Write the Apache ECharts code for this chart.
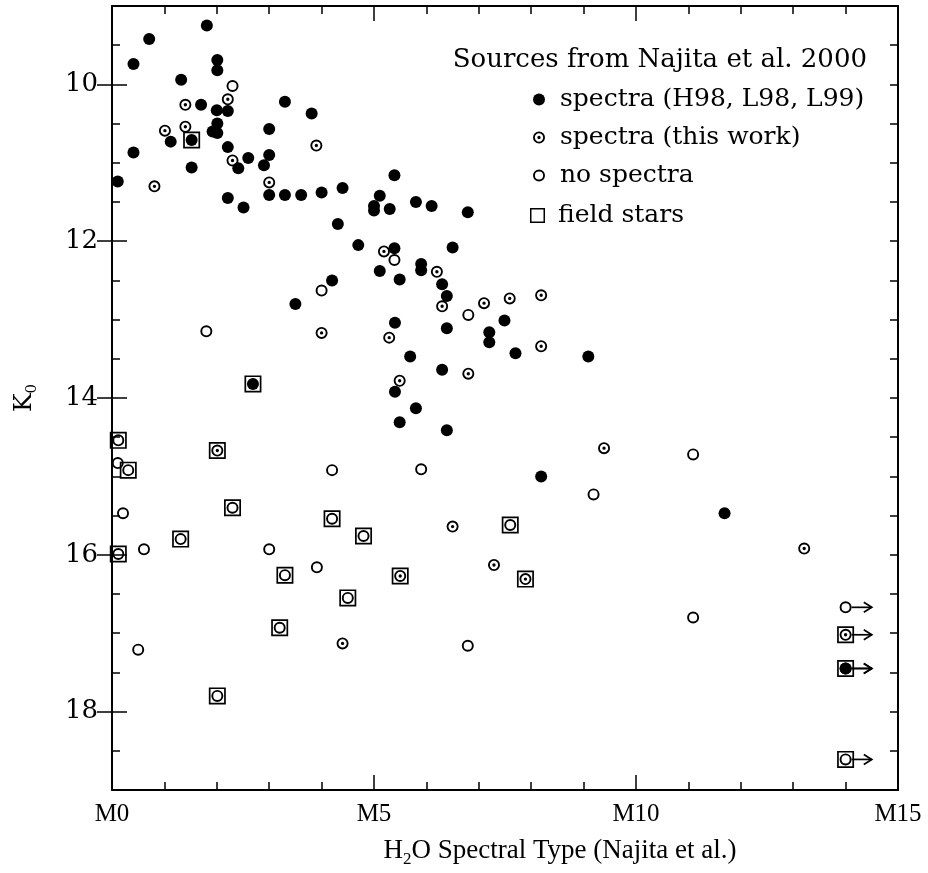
<!DOCTYPE html>
<html><head><meta charset="utf-8">
<script src="https://cdn.jsdelivr.net/npm/echarts@6/dist/echarts.min.js"></script>
<style>html,body{margin:0;padding:0;background:#fff}#c{width:928px;height:873px}</style>
</head><body><div id="c"></div>
<script>
// ---- data (H2O spectral type subclass, K0 magnitude) ----
const filledSpectra = [
  [1.81,9.25],[0.71,9.42],[0.41,9.74],[2.01,9.69],[2.01,9.82],[1.32,9.94],[1.70,10.26],[2.00,10.33],
  [2.21,10.34],[3.30,10.22],[3.81,10.37],[2.01,10.50],[1.92,10.60],[2.01,10.62],[1.52,10.71],[1.12,10.73],
  [3.00,10.57],[0.41,10.87],[2.21,10.80],[2.60,10.94],[3.00,10.90],[2.41,11.07],[2.90,11.03],[1.52,11.06],
  [0.11,11.24],[3.00,11.41],[3.30,11.41],[3.61,11.41],[4.00,11.38],[4.40,11.32],[2.21,11.45],[2.51,11.57],
  [4.31,11.78],[5.39,11.16],[5.11,11.42],[5.00,11.55],[5.00,11.61],[5.30,11.59],[5.80,11.50],[6.10,11.55],
  [6.79,11.63],[4.70,12.05],[5.39,12.09],[6.50,12.08],[5.11,12.38],[5.90,12.29],[5.90,12.37],[5.49,12.49],
  [4.20,12.50],[6.30,12.55],[6.39,12.70],[3.50,12.80],[7.49,13.01],[5.40,13.04],[6.39,13.11],[7.20,13.16],
  [7.20,13.29],[5.69,13.47],[7.70,13.43],[9.09,13.47],[6.30,13.64],[5.40,13.92],[5.80,14.13],[5.49,14.31],
  [6.39,14.41],[2.69,13.82],[8.19,15.00],[11.69,15.47],[14.0,17.45]
];
const dottedSpectra = [
  [1.40,10.26],[2.21,10.19],[1.40,10.54],[1.01,10.59],[3.90,10.78],[2.30,10.97],[0.81,11.30],[3.00,11.25],
  [5.19,12.13],[6.20,12.39],[6.30,12.83],[7.10,12.79],[7.59,12.73],[8.19,12.69],[4.00,13.17],[5.29,13.23],
  [8.19,13.34],[6.80,13.69],[5.49,13.78],[9.39,14.64],[2.01,14.67],[4.40,17.13],[6.50,15.64],[5.50,16.27],
  [7.29,16.13],[7.89,16.31],[13.21,15.92],[14.0,17.02]
];
const noSpectra = [
  [2.30,10.02],[5.39,12.24],[4.00,12.63],[6.80,12.94],[1.80,13.15],[0.12,14.54],[0.11,14.83],[0.31,14.92],
  [4.20,14.92],[0.21,15.47],[2.30,15.40],[4.20,15.54],[4.80,15.76],[1.31,15.80],[0.12,15.99],[0.61,15.93],
  [3.00,15.93],[3.91,16.16],[3.30,16.26],[4.50,16.55],[3.20,16.93],[0.50,17.21],[2.01,17.80],[5.90,14.91],
  [9.19,15.23],[7.60,15.62],[6.79,17.16],[11.09,14.72],[11.09,16.80],[14.0,16.67],[14.0,17.45],[14.0,18.61]
];
const fieldStars = [
  [1.52,10.71],[2.69,13.82],[0.12,14.54],[2.01,14.67],[0.31,14.92],[2.30,15.40],[4.20,15.54],[4.80,15.76],
  [1.31,15.80],[0.12,15.99],[3.30,16.26],[4.50,16.55],[3.20,16.93],[2.01,17.80],[7.60,15.62],[5.50,16.27],
  [7.89,16.31],[14.0,17.02],[14.0,17.45],[14.0,18.61]
];
// lower limits on spectral type (arrows pointing to later types)
const lowerLimits = [[14.0,16.67],[14.0,17.02],[14.0,17.45],[14.0,17.45],[14.0,18.61]];

const xMin = 0, xMax = 15, xMajor = 5;
const yMin = 9, yMax = 19, yMinorStep = 0.5;
const yMajorTicks = [10, 12, 14, 16, 18];
const legendTitle = 'Sources from Najita et al. 2000';
const nameFilled = 'spectra (H98, L98, L99)';
const nameDotted = 'spectra (this work)';
const nameOpen = 'no spectra';
const nameField = 'field stars';

// ---- symbols ----
const RING = 'path://M0,-10A10,10,0,1,1,0,10A10,10,0,1,1,0,-10Z M0,-6.8A6.8,6.8,0,1,0,0,6.8A6.8,6.8,0,1,0,0,-6.8Z';
const DOT = 'path://M0,-10A10,10,0,1,1,0,10A10,10,0,1,1,0,-10Z M0,-6.9A6.9,6.9,0,1,0,0,6.9A6.9,6.9,0,1,0,0,-6.9Z M0,-2.8A2.8,2.8,0,1,1,0,2.8A2.8,2.8,0,1,1,0,-2.8Z';
const SQUARE = 'path://M-10,-10H10V10H-10Z M-8,-8V8H8V-8Z';

const SERIF = 'DejaVu Serif';
const ROMAN = 'Liberation Serif';
const black = '#000';

const chart = echarts.init(document.getElementById('c'), null, {renderer: 'canvas'});

const baseX = {
  type: 'value', min: xMin, max: xMax, interval: xMajor, gridIndex: 0,
  axisLine: {show: true, onZero: false, lineStyle: {color: black, width: 2}},
  axisTick: {show: true, inside: true, length: 15, lineStyle: {color: black, width: 1.5}},
  minorTick: {show: true, splitNumber: 5, length: 8, lineStyle: {color: black, width: 1.5}},
  splitLine: {show: false}, minorSplitLine: {show: false}
};
const baseYMinor = {
  type: 'value', min: yMin, max: yMax, interval: yMinorStep, inverse: true, gridIndex: 0,
  axisLine: {show: true, onZero: false, lineStyle: {color: black, width: 2}},
  axisTick: {show: true, inside: true, length: 8, lineStyle: {color: black, width: 1.5}},
  splitLine: {show: false}
};
const baseYMajor = {
  type: 'value', min: yMin, max: yMax, inverse: true, gridIndex: 0,
  axisLine: {show: false},
  axisLabel: {show: false},
  axisTick: {show: true, inside: true, length: 15, customValues: yMajorTicks, lineStyle: {color: black, width: 1.5}},
  splitLine: {show: false}
};
const pointStyle = {color: black, opacity: 1};

chart.setOption({
  animation: false,
  backgroundColor: '#fff',
  grid: {left: 106, right: 30, top: 6, bottom: 79, containLabel: false},
  title: {
    text: legendTitle, right: 61, top: 47, padding: 0,
    textStyle: {fontFamily: SERIF, fontSize: 26, fontWeight: 'normal', color: black}
  },
  legend: [
    {
      orient: 'vertical', left: 533, top: 87, itemWidth: 12, itemHeight: 12, itemGap: 13,
      selectedMode: false, padding: 0,
      data: [{name: nameFilled, icon: 'circle'}, {name: nameDotted, icon: DOT}, {name: nameOpen, icon: RING}],
      itemStyle: {opacity: 1},
      textStyle: {fontFamily: SERIF, fontSize: 25, color: black, padding: [0, 0, 0, 10]}
    },
    {
      orient: 'vertical', left: 530, top: 203, itemWidth: 15, itemHeight: 15,
      selectedMode: false, padding: 0,
      data: [{name: nameField, icon: SQUARE}],
      itemStyle: {opacity: 1},
      textStyle: {fontFamily: SERIF, fontSize: 25, color: black, padding: [0, 0, 0, 8]}
    }
  ],
  xAxis: [
    Object.assign({}, baseX, {
      position: 'bottom',
      axisLabel: {show: true, margin: 12, formatter: v => 'M' + v, fontFamily: ROMAN, fontSize: 25, color: black},
      name: 'H{s|2}O Spectral Type (Najita et al.)',
      nameLocation: 'middle', nameGap: 44,
      nameTextStyle: {
        fontFamily: ROMAN, fontSize: 27, color: black, lineHeight: 34, padding: [0, 0, 0, 110],
        rich: {s: {fontFamily: ROMAN, fontSize: 17, lineHeight: 17, verticalAlign: 'bottom'}}
      }
    }),
    Object.assign({}, baseX, {position: 'top', axisLabel: {show: false}})
  ],
  yAxis: [
    Object.assign({}, baseYMinor, {
      position: 'left',
      axisLabel: {
        show: true, margin: 14, fontFamily: SERIF, fontSize: 26, color: black,
        formatter: v => (yMajorTicks.indexOf(v) >= 0 ? String(v) : '')
      },
      name: 'K{s|0}', nameLocation: 'middle', nameGap: 72, nameRotate: 90,
      nameTextStyle: {
        fontFamily: SERIF, fontSize: 25, color: black, lineHeight: 32,
        rich: {s: {fontFamily: SERIF, fontSize: 15, lineHeight: 16, verticalAlign: 'bottom'}}
      }
    }),
    Object.assign({}, baseYMajor, {position: 'left'}),
    Object.assign({}, baseYMinor, {position: 'right', axisLabel: {show: false}}),
    Object.assign({}, baseYMajor, {position: 'right'})
  ],
  series: [
    {
      name: nameField, type: 'scatter', xAxisIndex: 0, yAxisIndex: 0, data: fieldStars,
      symbol: SQUARE, symbolSize: 17, itemStyle: pointStyle, z: 3, silent: true
    },
    {
      name: nameFilled, type: 'scatter', xAxisIndex: 0, yAxisIndex: 0, data: filledSpectra,
      symbol: 'circle', symbolSize: 12, itemStyle: pointStyle, z: 4, silent: true
    },
    {
      name: nameDotted, type: 'scatter', xAxisIndex: 0, yAxisIndex: 0, data: dottedSpectra,
      symbol: DOT, symbolSize: 12, itemStyle: pointStyle, z: 4, silent: true
    },
    {
      name: nameOpen, type: 'scatter', xAxisIndex: 0, yAxisIndex: 0, data: noSpectra,
      symbol: RING, symbolSize: 12, itemStyle: pointStyle, z: 4, silent: true
    },
    {
      name: 'lower limits', type: 'custom', xAxisIndex: 0, yAxisIndex: 0, data: lowerLimits,
      encode: {x: 0, y: 1}, silent: true, z: 5,
      renderItem: function (params, api) {
        const p = api.coord([api.value(0), api.value(1)]);
        const e = api.coord([api.value(0) + 0.5, api.value(1)]);
        return {
          type: 'group',
          children: [
            {type: 'line', shape: {x1: p[0] + 6, y1: p[1], x2: e[0], y2: e[1]}, style: {stroke: black, lineWidth: 1.7}},
            {type: 'polyline', shape: {points: [[e[0] - 8, e[1] - 5], [e[0], e[1]], [e[0] - 8, e[1] + 5]]},
             style: {stroke: black, lineWidth: 1.7, fill: null}}
          ]
        };
      }
    }
  ]
});
</script>
</body></html>
